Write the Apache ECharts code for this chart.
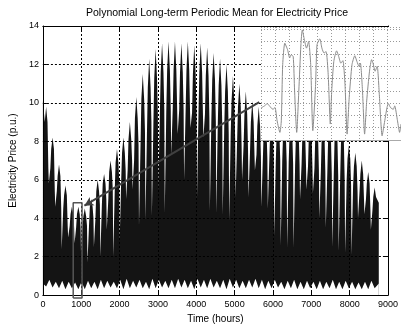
<!DOCTYPE html>
<html>
<head>
<meta charset="utf-8">
<script src="https://cdn.jsdelivr.net/npm/echarts@6/dist/echarts.min.js"></script>
<style>
  html, body { margin: 0; padding: 0; background: #fff; }
  #chart { width: 401px; height: 329px; }
</style>
</head>
<body>
<div id="chart"></div>
<script>
// weekly envelope of the hourly price (p.u.)
const weekPeak = [9.8, 8.2, 6.8, 5.7, 4.6, 4.6, 4.5, 5.0, 6.0, 6.3, 7.0, 7.6, 8.2, 9.0, 10.3, 11.5,
  12.3, 12.8, 13.1, 13.2, 13.2, 13.1, 13.2, 13.0, 13.1, 12.9, 12.6, 12.3, 12.0, 11.4, 11.0, 10.6,
  10.1, 9.8, 9.6, 9.4, 9.3, 9.2, 9.1, 9.0, 8.9, 8.8, 8.7, 8.6, 8.5, 8.4, 8.2, 7.8, 7.4, 7.0, 6.4, 5.6];
// top of the solid part under each weekly spike
const weekBody = [9.0, 7.6, 6.2, 5.2, 4.2, 4.2, 4.1, 4.6, 5.4, 5.8, 6.4, 6.9, 7.4, 8.1, 9.2, 10.2,
  10.8, 11.3, 11.6, 11.7, 11.7, 11.6, 11.7, 11.5, 11.6, 11.4, 11.2, 10.9, 10.6, 10.1, 9.8, 9.4,
  9.0, 8.8, 8.6, 8.5, 8.4, 8.4, 8.4, 8.4, 8.4, 8.3, 8.3, 8.3, 8.2, 8.2, 8.1, 7.1, 6.7, 6.3, 5.8, 5.1];
// level where the weekend dip narrows (between week j and j+1)
const notchTop = [6.6, 5.4, 4.5, 3.6, 3.5, 3.5, 3.6, 4.0, 4.7, 5.0, 5.5, 6.0, 6.5, 7.0, 7.8, 8.5,
  9.0, 9.4, 9.6, 9.7, 9.6, 9.6, 9.5, 9.5, 9.4, 9.2, 9.0, 8.8, 8.4, 8.1, 7.8, 7.5, 7.3, 7.2, 7.1,
  7.0, 7.0, 6.9, 6.8, 6.8, 6.7, 6.6, 6.5, 6.4, 6.3, 6.2, 6.0, 5.7, 5.4, 5.0, 4.4];
// bottom of the thin weekend dip
const notchBottom = [5.8, 4.6, 2.4, 3.0, 2.7, 2.2, 1.7, 2.5, 2.0, 3.4, 2.0, 2.8, 5.0, 5.5, 3.6, 3.9,
  4.1, 5.5, 4.3, 7.3, 8.4, 6.0, 8.7, 5.0, 8.2, 4.4, 4.3, 4.2, 3.9, 5.1, 6.0, 5.1, 6.5, 4.6, 4.5,
  3.1, 2.6, 2.5, 2.5, 5.0, 5.5, 5.3, 4.0, 3.5, 2.5, 2.3, 2.2, 2.1, 4.0, 4.2, 3.4];
// lower edge of the band
const floorTooth = [0.6, 0.8, 0.7, 0.75, 0.7, 0.65, 0.7, 0.75, 0.7, 0.8, 0.75, 0.7, 0.8, 0.85, 0.75, 0.8,
  0.7, 0.85, 0.8, 0.75, 0.8, 0.85, 0.8, 0.75, 0.85, 0.8, 0.85, 0.75, 0.8, 0.85, 0.8, 0.75, 0.8,
  0.85, 0.8, 0.75, 0.8, 0.7, 0.75, 0.8, 0.7, 0.75, 0.7, 0.75, 0.7, 0.8, 0.7, 0.75, 0.7, 0.65, 0.7, 0.75];
const floorLow = [0.45, 0.4, 0.35, 0.3, 0.35, 0.3, 0.3, 0.35, 0.3, 0.35, 0.4, 0.35, 0.3, 0.35, 0.4, 0.35,
  0.3, 0.35, 0.4, 0.35, 0.35, 0.4, 0.35, 0.3, 0.4, 0.35, 0.4, 0.35, 0.3, 0.4, 0.35, 0.35, 0.4,
  0.35, 0.3, 0.35, 0.4, 0.3, 0.35, 0.3, 0.3, 0.35, 0.3, 0.3, 0.35, 0.3, 0.3, 0.35, 0.3, 0.3, 0.3, 0.35];
const edgeTop = [10.1, 4.8];   // first and last hour
const lastHour = 8760;

// zoomed window shown in the inset
const insetHours = [800, 805, 809, 812, 817, 820, 823, 827, 829, 831, 834, 838, 841, 843, 846, 848, 851,
  854, 857, 859, 862, 865, 868, 871, 874, 878, 880, 884, 887, 890, 893, 896, 899, 901, 904, 908,
  911, 914, 917, 920, 923, 926, 930, 934, 937, 940, 942, 945, 948, 951, 955, 958, 960, 963, 966,
  969, 973, 976, 980, 982, 985, 989, 991, 995, 998, 1000];
const insetPrice = [1.3, 1.39, 1.48, 1.39, 1.25, 1.32, 0.78, 0.31, 0.78, 3.07, 3.94, 3.67, 3.34, 3.47,
  3.40, 1.99, 0.31, 1.99, 3.87, 4.48, 4.08, 3.74, 4.01, 3.07, 0.38, 2.26, 3.87, 4.12, 3.74, 3.54,
  3.60, 2.66, 0.65, 1.99, 3.20, 3.63, 3.40, 3.13, 3.23, 2.26, 0.24, 1.72, 3.07, 3.43, 3.20, 3.00,
  3.13, 1.99, 0.24, 1.59, 2.80, 3.27, 3.13, 2.80, 3.00, 1.86, 0.17, 0.65, 1.32, 1.48, 1.32, 1.25,
  1.39, 0.78, 0.31, 0.65];

// box around the zoomed window and the arrow to the inset
const boxHours = [790, 1020];
const boxPrice = [-0.15, 4.8];
const arrowFrom = [5643, 10.04];
const arrowTo = [1082, 4.65];

const font = 'Liberation Sans';

// one weekly spike per week, thin weekend dips between weeks
const topLine = [[0, edgeTop[0]]];
weekPeak.forEach((p, i) => {
  const b = i * 168;
  if (i > 0) {
    const top = notchTop[i - 1];
    const low = notchBottom[i - 1];
    topLine.push([b - 26, top], [b - 14, low], [b + 14, low], [b + 26, top]);
  }
  topLine.push([b + 48, weekBody[i]], [b + 84, p], [b + 120, weekBody[i]]);
});
topLine.push([lastHour, edgeTop[1]]);

const floorLine = [];
floorTooth.forEach((t, i) => {
  floorLine.push([i * 168, t], [i * 168 + 84, floorLow[i]]);
});
floorLine.push([lastHour, floorTooth[0]]);

const boxLine = [
  [boxHours[0], boxPrice[0]], [boxHours[1], boxPrice[0]], [boxHours[1], boxPrice[1]],
  [boxHours[0], boxPrice[1]], [boxHours[0], boxPrice[0]],
];

const frameAxis = {
  axisLine: { show: true, onZero: false, lineStyle: { color: '#000', width: 1 } },
  axisTick: { show: true, inside: true, length: 4, lineStyle: { color: '#000' } },
  z: 4,
};
const dash = { show: true, lineStyle: { color: '#000', type: [2, 2], width: 1 } };
const plain = (v) => String(v);

const chart = echarts.init(document.getElementById('chart'));
chart.setOption({
  animation: false,
  backgroundColor: '#fff',
  title: {
    text: 'Polynomial Long-term Periodic Mean for Electricity Price',
    left: 217, top: 8, padding: 0, textAlign: 'center',
    textStyle: { fontFamily: font, fontSize: 10.5, fontWeight: 'normal', color: '#000' },
  },
  grid: [
    { left: 41, top: 26, width: 352, height: 273 },
    { left: 261, top: 27, width: 141, height: 113 },
  ],
  xAxis: [
    {
      ...frameAxis, type: 'value', gridIndex: 0, min: 0, max: 9000, interval: 1000,
      splitLine: dash,
      axisLabel: { fontFamily: font, fontSize: 9, color: '#000', margin: 5, formatter: plain },
      name: 'Time (hours)', nameLocation: 'middle', nameGap: 18,
      nameTextStyle: { fontFamily: font, fontSize: 10, color: '#000' },
    },
    {
      ...frameAxis, type: 'value', gridIndex: 0, position: 'top', min: 0, max: 9000, interval: 1000,
      splitLine: { show: false }, axisLabel: { show: false },
    },
    {
      type: 'value', gridIndex: 1, min: 800, max: 1000, interval: 20, z: 11,
      axisLine: { show: true, lineStyle: { color: '#aaa' } },
      axisTick: { show: false }, axisLabel: { show: false },
      splitLine: { show: true, lineStyle: { color: '#999', type: [1, 2], width: 1 } },
    },
  ],
  yAxis: [
    {
      ...frameAxis, type: 'value', gridIndex: 0, min: 0, max: 14, interval: 2,
      splitLine: dash,
      axisLabel: { fontFamily: font, fontSize: 9, color: '#000', margin: 4, formatter: plain },
      name: 'Electricity Price (p.u.)', nameLocation: 'middle', nameGap: 22,
      nameTextStyle: { fontFamily: font, fontSize: 10, color: '#000' },
    },
    {
      ...frameAxis, type: 'value', gridIndex: 0, position: 'right', min: 0, max: 14, interval: 2,
      splitLine: { show: false }, axisLabel: { show: false },
    },
    {
      type: 'value', gridIndex: 1, min: 0, max: 4.6, interval: 0.5, z: 11,
      axisLine: { show: false }, axisTick: { show: false }, axisLabel: { show: false },
      splitLine: { show: true, lineStyle: { color: '#999', type: [1, 2], width: 1 } },
    },
  ],
  graphic: [
    {
      type: 'rect', z: 10, silent: true,
      shape: { x: 261, y: 27, width: 141, height: 113 },
      style: { fill: '#fff' },
    },
  ],
  series: [
    {
      name: 'price', type: 'line', xAxisIndex: 0, yAxisIndex: 0, data: topLine,
      showSymbol: false, symbol: 'none', z: 2,
      lineStyle: { width: 0 },
      areaStyle: { color: '#141414', opacity: 1, origin: 'start' },
    },
    {
      name: 'floor', type: 'line', xAxisIndex: 0, yAxisIndex: 0, data: floorLine,
      showSymbol: false, symbol: 'none', z: 3,
      lineStyle: { width: 0 },
      areaStyle: { color: '#fff', opacity: 1, origin: 'start' },
    },
    {
      name: 'box', type: 'line', xAxisIndex: 0, yAxisIndex: 0, data: boxLine,
      showSymbol: false, symbol: 'none', clip: false, z: 15,
      lineStyle: { color: '#555', width: 1.5 },
      markLine: {
        silent: true, symbol: ['none', 'arrow'], symbolSize: [7, 9],
        label: { show: false },
        lineStyle: { color: '#404040', width: 2, type: 'solid' },
        data: [[{ coord: arrowFrom }, { coord: arrowTo }]],
      },
    },
    {
      name: 'inset', type: 'line', xAxisIndex: 2, yAxisIndex: 2,
      data: insetHours.map((h, i) => [h, insetPrice[i]]),
      showSymbol: false, symbol: 'none', smooth: 0.2, z: 12,
      lineStyle: { color: '#8c8c8c', width: 1 },
    },
  ],
});
</script>
</body>
</html>
